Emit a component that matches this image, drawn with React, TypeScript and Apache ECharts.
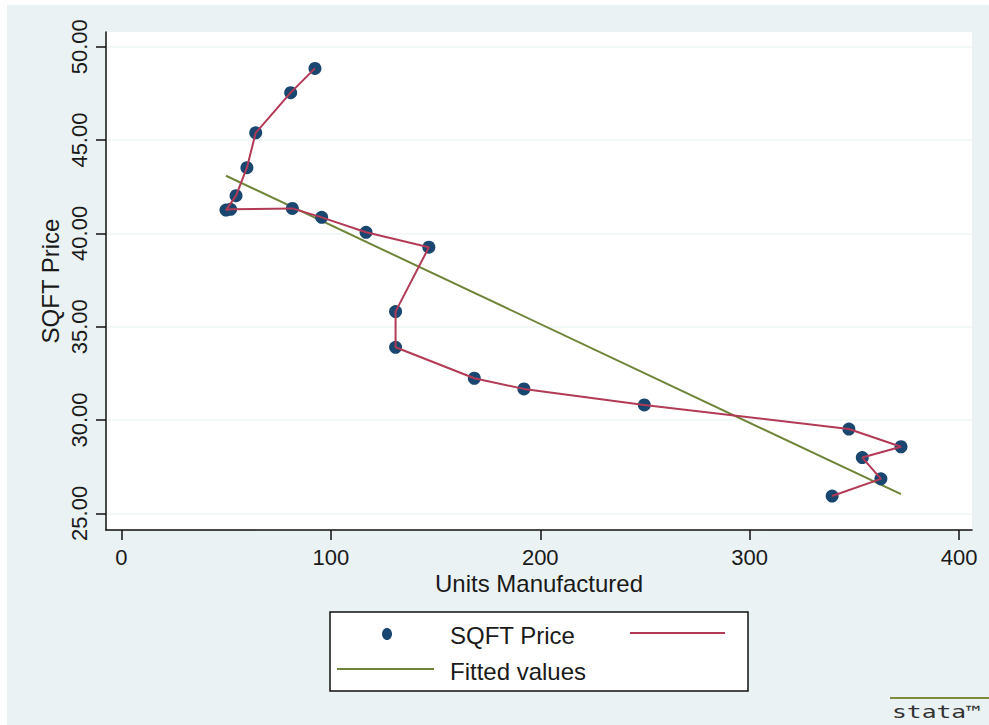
import React, { useEffect, useRef } from "react";
import * as echarts from "echarts";

const units = [92.4, 80.8, 64.1, 59.9, 54.7, 49.9, 52.1, 81.6, 95.6, 116.8, 146.8, 130.9, 130.9, 168.5, 192.2, 249.7, 347.4, 372.3, 353.8, 362.7, 339.4];
const price = [48.84, 47.54, 45.39, 43.52, 42.02, 41.25, 41.29, 41.34, 40.86, 40.06, 39.26, 35.81, 33.9, 32.24, 31.67, 30.81, 29.52, 28.57, 27.99, 26.85, 25.93];
const fitUnits = [49.9, 372.3];
const fitPrice = [43.09, 26.03];
const xTicks = [0, 100, 200, 300, 400];
const yTicks = [25, 30, 35, 40, 45, 50];

const seriesName = "SQFT Price";
const fitName = "Fitted values";
const xTitle = "Units Manufactured";
const yTitle = "SQFT Price";

const FONT = "'Liberation Sans', Arial, sans-serif";

export default function App() {
  const ref = useRef<HTMLDivElement>(null);
  useEffect(() => {
    const chart = echarts.init(ref.current!, null, { renderer: "svg" });
    const pts = units.map((u, i) => [u, price[i]]);
    const fit = fitUnits.map((u, i) => [u, fitPrice[i]]);
    chart.setOption({
      animation: false,
      backgroundColor: "#EAF2F3",
      grid: {
        left: 106,
        top: 32,
        right: 17,
        bottom: 195,
        show: true,
        backgroundColor: "#ffffff",
        borderWidth: 0,
        containLabel: false,
        outerBoundsMode: "none",
      },
      xAxis: {
        type: "value",
        min: -7.4,
        max: 406.2,
        name: xTitle,
        nameLocation: "middle",
        nameGap: 41,
        nameMoveOverlap: false,
        nameTextStyle: { fontSize: 24, fontFamily: FONT, color: "#1a1a1a" },
        axisLine: { show: true, onZero: false, lineStyle: { color: "#111", width: 1.5 } },
        axisTick: { show: true, inside: false, length: 10, customValues: xTicks, lineStyle: { color: "#111", width: 1.5 } },
        axisLabel: { customValues: xTicks, margin: 16, fontSize: 22, fontFamily: FONT, color: "#1a1a1a" },
        splitLine: { show: false },
      },
      yAxis: {
        type: "value",
        min: 24.11,
        max: 50.79,
        name: yTitle,
        nameLocation: "middle",
        nameGap: 44,
        nameMoveOverlap: false,
        nameTextStyle: { fontSize: 24, fontFamily: FONT, color: "#1a1a1a" },
        axisLine: { show: true, onZero: false, lineStyle: { color: "#111", width: 1.5 } },
        axisTick: { show: true, inside: false, length: 10, customValues: yTicks, lineStyle: { color: "#111", width: 1.5 } },
        axisLabel: {
          customValues: yTicks,
          rotate: 90,
          margin: 16,
          fontSize: 22,
          fontFamily: FONT,
          color: "#1a1a1a",
          formatter: (v: number) => v.toFixed(2),
        },
        splitLine: { show: true, lineStyle: { color: "#EEF4F5", width: 1.5 } },
      },
      series: [
        {
          name: fitName,
          type: "line",
          data: fit,
          showSymbol: false,
          z: 1,
          lineStyle: { color: "#6E8438", width: 2 },
        },
        {
          name: seriesName,
          type: "scatter",
          data: pts,
          symbolSize: 13,
          z: 2,
          itemStyle: { color: "#1A476F", opacity: 1 },
        },
        {
          name: seriesName + " line",
          type: "line",
          data: pts,
          showSymbol: false,
          z: 3,
          lineStyle: { color: "#B23A56", width: 2 },
        },
      ],
      graphic: [
        { type: "rect", shape: { x: 0, y: 0, width: 989, height: 5 }, style: { fill: "#ffffff" }, silent: true },
        { type: "rect", shape: { x: 0, y: 0, width: 7, height: 725 }, style: { fill: "#ffffff" }, silent: true },
        {
          type: "rect",
          shape: { x: 330, y: 612, width: 418, height: 79 },
          style: { fill: "#ffffff", stroke: "#111", lineWidth: 1.5 },
        },
        { type: "ellipse", shape: { cx: 387, cy: 634, rx: 5, ry: 6 }, style: { fill: "#1A476F" } },
        {
          type: "text",
          x: 450,
          y: 635,
          style: { text: seriesName, fontSize: 24, fontFamily: FONT, fill: "#1a1a1a", align: "left", verticalAlign: "middle" },
        },
        { type: "line", shape: { x1: 630, y1: 633, x2: 725, y2: 633 }, style: { stroke: "#B23A56", lineWidth: 2 } },
        { type: "line", shape: { x1: 337, y1: 669, x2: 434, y2: 669 }, style: { stroke: "#6E8438", lineWidth: 2 } },
        {
          type: "text",
          x: 450,
          y: 671,
          style: { text: fitName, fontSize: 24, fontFamily: FONT, fill: "#1a1a1a", align: "left", verticalAlign: "middle" },
        },
        { type: "line", shape: { x1: 890, y1: 698, x2: 989, y2: 698 }, style: { stroke: "#7E8A3C", lineWidth: 2 } },
        {
          type: "text",
          x: 892,
          y: 712,
          scaleX: 1.45,
          style: { text: "stata™", fontSize: 17, fontFamily: "'DejaVu Sans Mono', monospace", fill: "#333", align: "left", verticalAlign: "middle" },
        },
      ],
    });
    return () => chart.dispose();
  }, []);
  return <div ref={ref} style={{ position: "fixed", left: 0, top: 0, width: 989, height: 725 }} />;
}
